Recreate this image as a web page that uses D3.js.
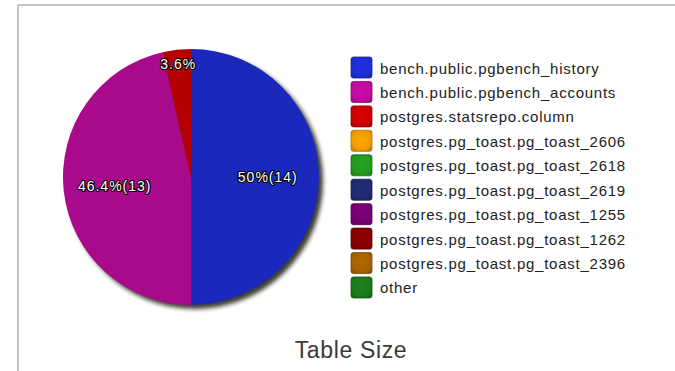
<!DOCTYPE html>
<html>
<head>
<meta charset="utf-8">
<script src="https://cdn.jsdelivr.net/npm/d3@7/dist/d3.min.js"></script>
<style>
  html, body { margin: 0; padding: 0; background: #fff; }
  svg { display: block; font-family: "Liberation Sans", Arial, sans-serif; }
</style>
</head>
<body>
<svg id="chart" width="675" height="371"></svg>
<script>
// Table size breakdown (counts per table)
const tables = [
  "bench.public.pgbench_history",
  "bench.public.pgbench_accounts",
  "postgres.statsrepo.column",
  "postgres.pg_toast.pg_toast_2606",
  "postgres.pg_toast.pg_toast_2618",
  "postgres.pg_toast.pg_toast_2619",
  "postgres.pg_toast.pg_toast_1255",
  "postgres.pg_toast.pg_toast_1262",
  "postgres.pg_toast.pg_toast_2396",
  "other"
];
const sizes = [14, 13, 1, 0, 0, 0, 0, 0, 0, 0];
const palette = [
  "#1e2ed4", "#c00a9e", "#cc0000", "#f09c00", "#229a1e",
  "#1f2a72", "#760070", "#860000", "#a66200", "#1b7a1b"
];
const title = "Table Size";

const svg = d3.select("#chart");
const W = 675, H = 371;
const cx = 191, cy = 177, R = 128;

const defs = svg.append("defs");
const blur = defs.append("filter").attr("id", "shadowBlur")
  .attr("x", "-20%").attr("y", "-20%").attr("width", "140%").attr("height", "140%");
blur.append("feGaussianBlur").attr("stdDeviation", 2.2);

// Shaded fills: light core fading to a darker rim
palette.forEach((c, i) => {
  const base = d3.color(c);
  const g = defs.append("radialGradient").attr("id", "pieGrad" + i)
    .attr("gradientUnits", "userSpaceOnUse")
    .attr("cx", cx).attr("cy", cy).attr("r", R);
  g.append("stop").attr("offset", "0%").attr("stop-color", base.brighter(0.15));
  g.append("stop").attr("offset", "72%").attr("stop-color", base);
  g.append("stop").attr("offset", "100%").attr("stop-color", base.darker(0.35));

  const s = defs.append("radialGradient").attr("id", "swGrad" + i)
    .attr("cx", "50%").attr("cy", "45%").attr("r", "65%");
  s.append("stop").attr("offset", "0%").attr("stop-color", base.brighter(0.2));
  s.append("stop").attr("offset", "70%").attr("stop-color", base);
  s.append("stop").attr("offset", "100%").attr("stop-color", base.darker(0.6));
});

// Frame lines
svg.append("line").attr("x1", 18).attr("y1", 5).attr("x2", W).attr("y2", 5)
  .attr("stroke", "#c4c4c4").attr("stroke-width", 2);
svg.append("line").attr("x1", 18).attr("y1", 5).attr("x2", 18).attr("y2", H)
  .attr("stroke", "#c4c4c4").attr("stroke-width", 2);

const data = tables.map((t, i) => ({ name: t, value: sizes[i], idx: i }));
const total = d3.sum(sizes);

const pie = d3.pie().sort(null).value(d => d.value);
const arcs = pie(data).filter(a => a.data.value > 0);
const arc = d3.arc().innerRadius(0).outerRadius(R);

const gPie = svg.append("g").attr("transform", `translate(${cx},${cy})`);

// Drop shadow under the pie
gPie.append("circle").attr("cx", 4).attr("cy", 4).attr("r", R)
  .attr("fill", "#1a1a10").attr("opacity", 0.85)
  .attr("filter", "url(#shadowBlur)");

gPie.selectAll("path.slice").data(arcs).join("path")
  .attr("class", "slice")
  .attr("d", arc)
  .attr("fill", d => `url(#pieGrad${d.data.idx})`);

// Slice labels: share (count) inside, small slices only the share near the rim
const pct = v => (Math.round(v / total * 1000) / 10) + "%";
const inner = d3.arc().innerRadius(R * 0.6).outerRadius(R * 0.6);
const rim = d3.arc().innerRadius(R * 0.89).outerRadius(R * 0.89);

gPie.selectAll("text.lbl").data(arcs).join("text")
  .attr("class", "lbl")
  .each(function (d) {
    const small = d.data.value / total < 0.05;
    const [x, y] = (small ? rim : inner).centroid(d);
    d3.select(this)
      .attr("x", x).attr("y", y + 5)
      .text(small ? pct(d.data.value) : `${pct(d.data.value)}(${d.data.value})`);
  })
  .attr("text-anchor", "middle")
  .attr("font-size", 14)
  .attr("letter-spacing", 1)
  .attr("fill", "#fff")
  .attr("stroke", "#000")
  .attr("stroke-width", 2.2)
  .attr("stroke-linejoin", "round")
  .attr("paint-order", "stroke");

// Legend
const legendY = d3.scaleBand().domain(tables).range([57, 298]).paddingInner(0.14);
const gLeg = svg.append("g");
const rows = gLeg.selectAll("g.row").data(data).join("g")
  .attr("class", "row")
  .attr("transform", d => `translate(351,${legendY(d.name)})`);
rows.append("rect")
  .attr("width", 21).attr("height", legendY.bandwidth())
  .attr("rx", 2.5).attr("ry", 2.5)
  .attr("fill", d => `url(#swGrad${d.idx})`)
  .attr("stroke", d => d3.color(palette[d.idx]).darker(0.8))
  .attr("stroke-width", 0.8);
rows.append("text")
  .attr("x", 29).attr("y", legendY.bandwidth() / 2 + 6)
  .attr("font-size", 15)
  .attr("letter-spacing", 0.75)
  .attr("fill", "#222")
  .text(d => d.name);

// Title
svg.append("text")
  .attr("x", 351).attr("y", 358)
  .attr("text-anchor", "middle")
  .attr("font-size", 23)
  .attr("letter-spacing", 0.65)
  .attr("fill", "#3a3a3a")
  .text(title);
</script>
</body>
</html>
